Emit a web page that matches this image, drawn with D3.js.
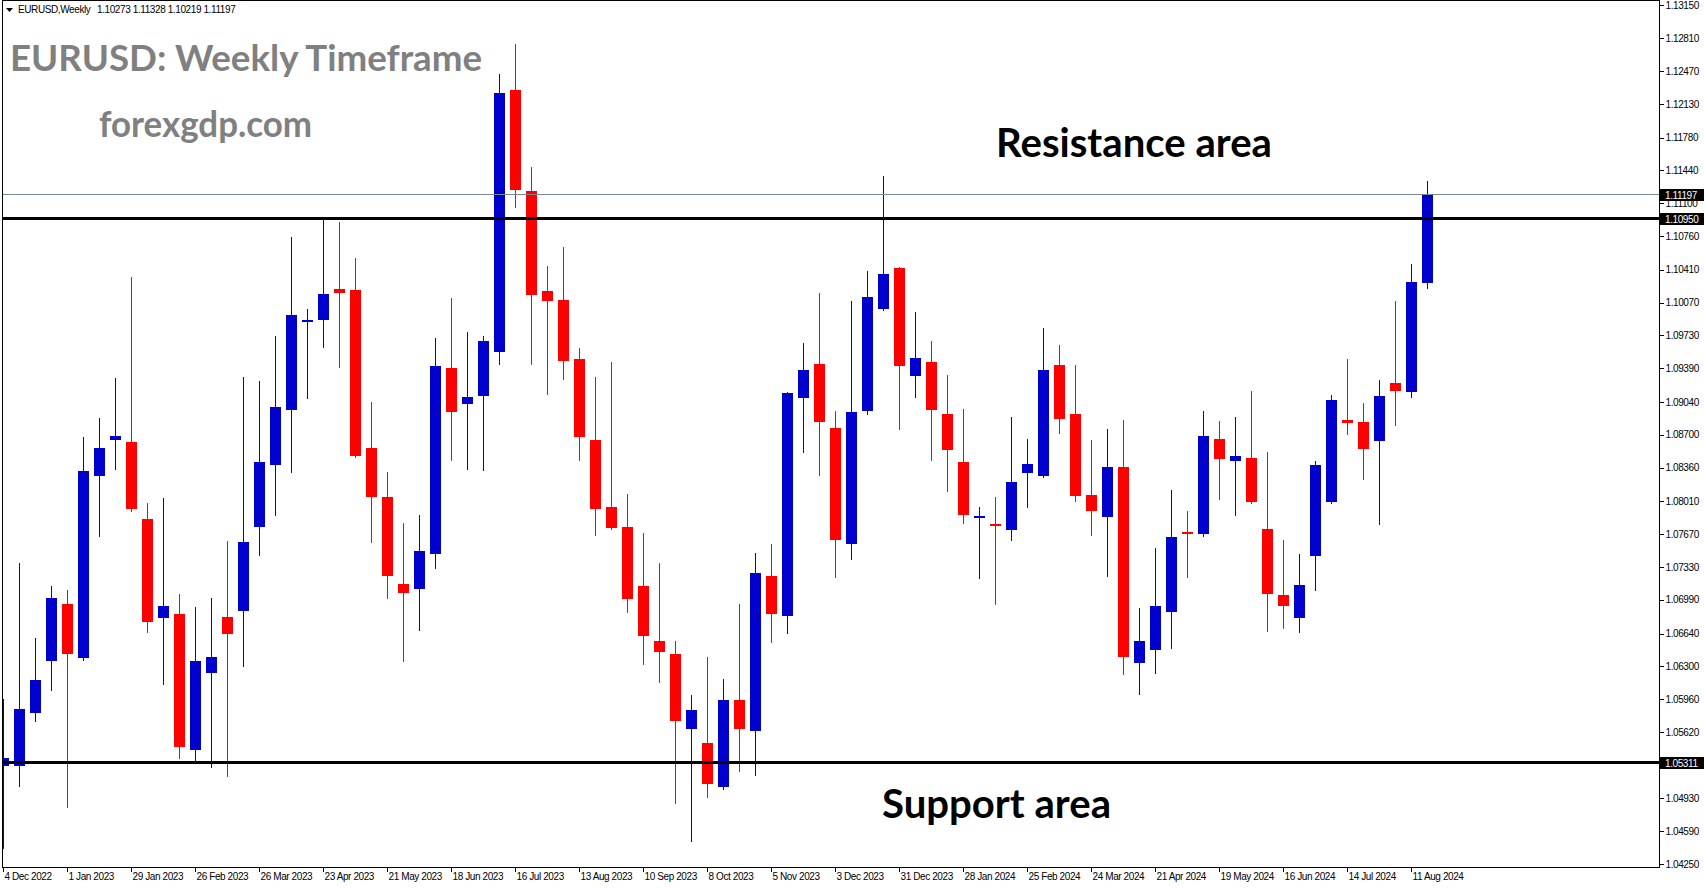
<!DOCTYPE html>
<html><head><meta charset="utf-8">
<script src="https://cdn.jsdelivr.net/npm/d3@7"></script>
<style>
html,body{margin:0;padding:0;background:#fff;overflow:hidden}
svg{display:block}
.sm{font-family:"Liberation Sans",Arial,sans-serif;font-size:10px;letter-spacing:-0.4px}
.big{font-family:Lato,"Open Sans",sans-serif;font-weight:700}
</style></head><body>
<svg id="chart" width="1705" height="888"></svg>
<script>
// ---------------- DATA ----------------
const weeks = [
"2022-12-04","2022-12-11","2022-12-18","2022-12-25",
"2023-01-01","2023-01-08","2023-01-15","2023-01-22","2023-01-29","2023-02-05","2023-02-12","2023-02-19","2023-02-26",
"2023-03-05","2023-03-12","2023-03-19","2023-03-26","2023-04-02","2023-04-09","2023-04-16","2023-04-23","2023-04-30",
"2023-05-07","2023-05-14","2023-05-21","2023-05-28","2023-06-04","2023-06-11","2023-06-18","2023-06-25","2023-07-02",
"2023-07-09","2023-07-16","2023-07-23","2023-07-30","2023-08-06","2023-08-13","2023-08-20","2023-08-27","2023-09-03",
"2023-09-10","2023-09-17","2023-09-24","2023-10-01","2023-10-08","2023-10-15","2023-10-22","2023-10-29","2023-11-05",
"2023-11-12","2023-11-19","2023-11-26","2023-12-03","2023-12-10","2023-12-17","2023-12-24","2023-12-31",
"2024-01-07","2024-01-14","2024-01-21","2024-01-28","2024-02-04","2024-02-11","2024-02-18","2024-02-25","2024-03-03",
"2024-03-10","2024-03-17","2024-03-24","2024-03-31","2024-04-07","2024-04-14","2024-04-21","2024-04-28","2024-05-05",
"2024-05-12","2024-05-19","2024-05-26","2024-06-02","2024-06-09","2024-06-16","2024-06-23","2024-06-30","2024-07-07",
"2024-07-14","2024-07-21","2024-07-28","2024-08-04","2024-08-11","2024-08-18"];

const open = [1.0527,1.0527,1.0582,1.0635,1.0695,1.0639,1.0827,1.0865,1.0862,1.0783,
1.0680,1.0684,1.0543,1.0623,1.0681,1.0687,1.0774,1.0839,1.0896,1.0987,
1.0989,1.1021,1.1020,1.0856,1.0805,1.0715,1.0710,1.0746,1.0939,1.0902,
1.0910,1.0956,1.1227,1.1123,1.1019,1.1010,1.0949,1.0865,1.0795,1.0774,
1.0713,1.0656,1.0643,1.0565,1.0551,1.0505,1.0595,1.0563,1.0724,1.0682,
1.0908,1.0943,1.0877,1.0757,1.0895,1.1000,1.1043,1.0931,1.0945,1.0891,
1.0842,1.0784,1.0778,1.0771,1.0830,1.0827,1.0942,1.0891,1.0808,1.0785,
1.0837,1.0633,1.0647,1.0686,1.0769,1.0767,1.0866,1.0843,1.0846,1.0772,
1.0704,1.0680,1.0744,1.0800,1.0885,1.0883,1.0864,1.0924,1.0914,1.10273];

const high = [1.0596,1.0737,1.0659,1.0713,1.0709,1.0868,1.0887,1.0929,1.1033,1.0799,
1.0804,1.0705,1.0691,1.0701,1.0760,1.0930,1.0926,1.0972,1.1075,1.1000,
1.1093,1.1091,1.1053,1.0904,1.0831,1.0779,1.0787,1.0970,1.1012,1.0976,
1.0972,1.1244,1.1275,1.1148,1.1045,1.1065,1.0960,1.0930,1.0945,1.0809,
1.0768,1.0737,1.0656,1.0600,1.0640,1.0617,1.0695,1.0747,1.0757,1.0914,
1.0965,1.1017,1.0895,1.1009,1.1040,1.1138,1.1044,1.0997,1.0967,1.0932,
1.0897,1.0795,1.0806,1.0888,1.0866,1.0981,1.0963,1.0942,1.0865,1.0876,
1.0885,1.0690,1.0753,1.0813,1.0791,1.0895,1.0884,1.0888,1.0915,1.0852,
1.0761,1.0746,1.0843,1.0911,1.0948,1.0903,1.0927,1.1009,1.1047,1.11328];

const low = [1.0442,1.0506,1.0573,1.0605,1.0484,1.0637,1.0765,1.0834,1.0791,1.0666,
1.0612,1.0535,1.0533,1.0526,1.0516,1.0630,1.0745,1.0787,1.0831,1.0908,
1.0961,1.0940,1.0847,1.0759,1.0701,1.0635,1.0668,1.0732,1.0844,1.0835,
1.0833,1.0943,1.1106,1.0943,1.0912,1.0928,1.0844,1.0766,1.0772,1.0686,
1.0632,1.0614,1.0488,1.0449,1.0495,1.0503,1.0522,1.0517,1.0655,1.0665,
1.0852,1.0828,1.0723,1.0741,1.0891,1.0999,1.0876,1.0909,1.0844,1.0812,
1.0779,1.0722,1.0695,1.0761,1.0795,1.0826,1.0872,1.0801,1.0766,1.0724,
1.0622,1.0601,1.0623,1.0649,1.0723,1.0765,1.0803,1.0787,1.0799,1.0667,
1.0670,1.0666,1.0709,1.0799,1.0871,1.0824,1.0777,1.0880,1.0909,1.10219];

const close = [1.0535,1.0586,1.0616,1.0701,1.0643,1.0832,1.0856,1.0869,1.0793,1.0676,
1.0693,1.0546,1.0635,1.0640,1.0664,1.0759,1.0842,1.0899,1.0994,1.0989,
1.1016,1.1017,1.0848,1.0805,1.0724,1.0706,1.0749,1.0941,1.0894,1.0909,
1.0967,1.1224,1.1124,1.1015,1.1009,1.0946,1.0868,1.0793,1.0773,1.0700,
1.0661,1.0645,1.0573,1.0585,1.0508,1.0595,1.0565,1.0727,1.0684,1.0913,
1.0937,1.0883,1.0761,1.0894,1.1013,1.1037,1.0941,1.0950,1.0896,1.0854,
1.0787,1.0786,1.0776,1.0821,1.0840,1.0937,1.0886,1.0807,1.0791,1.0837,
1.0640,1.0656,1.0693,1.0764,1.0768,1.0869,1.0845,1.0848,1.0800,1.0705,
1.0692,1.0714,1.0839,1.0906,1.0882,1.0855,1.0910,1.0915,1.1028,1.11197];

const priceTicks = [1.13150,1.12810,1.12470,1.12130,1.11780,1.11440,1.11100,1.10760,1.10410,
1.10070,1.09730,1.09390,1.09040,1.08700,1.08360,1.08010,1.07670,1.07330,1.06990,1.06640,
1.06300,1.05960,1.05620,1.05270,1.04930,1.04590,1.04250];

const timeTickLabels = ["4 Dec 2022","1 Jan 2023","29 Jan 2023","26 Feb 2023","26 Mar 2023","23 Apr 2023",
"21 May 2023","18 Jun 2023","16 Jul 2023","13 Aug 2023","10 Sep 2023","8 Oct 2023","5 Nov 2023",
"3 Dec 2023","31 Dec 2023","28 Jan 2024","25 Feb 2024","24 Mar 2024","21 Apr 2024","19 May 2024",
"16 Jun 2024","14 Jul 2024","11 Aug 2024"];

const resistanceLevel = 1.10950;
const supportLevel = 1.05311;
const lastPrice = 1.11197;
const symbolText = "EURUSD,Weekly";
const ohlcText = "1.10273 1.11328 1.10219 1.11197";
const titleText = "EURUSD: Weekly Timeframe";
const siteText = "forexgdp.com";
const resistanceText = "Resistance area";
const supportText = "Support area";

// ---------------- CHART ----------------
const svg = d3.select("#chart");
const plotL = 2, plotR = 1659, plotT = 0, plotB = 867;
const parse = d3.utcParse("%Y-%m-%d");
const parseLbl = d3.utcParse("%e %b %Y");
const dates = weeks.map(parse);
const candles = dates.map((d,i)=>({d, o:open[i], h:high[i], l:low[i], c:close[i]}));

const x = d3.scaleUtc().domain([dates[0], dates[dates.length-1]]).range([3.3, 3.3 + 16*(dates.length-1)]);
const y = d3.scaleLinear().domain([1.04220, 1.13206]).range([plotB, plotT]);

const BULL = "#0000cd", BEAR = "#ff0000";

svg.append("defs").append("clipPath").attr("id","plotclip")
  .append("rect").attr("x",plotL+1).attr("y",plotT+1).attr("width",plotR-plotL-1).attr("height",plotB-plotT-1);

const plot = svg.append("g").attr("clip-path","url(#plotclip)");

const cg = plot.append("g");
const xc = d => Math.floor(x(d.d)) + 0.5;
cg.selectAll("line.wick").data(candles).join("line").attr("class","wick")
  .attr("x1",xc).attr("x2",xc)
  .attr("y1",d=>Math.round(y(d.h))).attr("y2",d=>Math.round(y(d.l))+1)
  .attr("stroke",d=>d.c>=d.o?BULL:BEAR).attr("stroke-width",1).attr("shape-rendering","crispEdges");
cg.selectAll("rect.body").data(candles).join("rect").attr("class","body")
  .attr("x",d=>Math.floor(x(d.d))-5).attr("width",11)
  .attr("y",d=>Math.round(y(Math.max(d.o,d.c))))
  .attr("height",d=>Math.max(2, Math.round(y(Math.min(d.o,d.c))) - Math.round(y(Math.max(d.o,d.c)))))
  .attr("fill",d=>d.c>=d.o?BULL:BEAR).attr("shape-rendering","crispEdges");

// horizontal lines
plot.append("line").attr("x1",plotL).attr("x2",plotR)
  .attr("y1",Math.round(y(lastPrice))+0.5).attr("y2",Math.round(y(lastPrice))+0.5)
  .attr("stroke","#778899").attr("stroke-width",1).attr("shape-rendering","crispEdges");
[resistanceLevel, supportLevel].forEach(v=>{
  plot.append("line").attr("x1",plotL).attr("x2",plotR)
    .attr("y1",Math.round(y(v))+0.5).attr("y2",Math.round(y(v))+0.5)
    .attr("stroke","#000").attr("stroke-width",3).attr("shape-rendering","crispEdges");
});

// frame
svg.append("rect").attr("x",plotL+0.5).attr("y",plotT+0.5).attr("width",plotR-plotL).attr("height",plotB-plotT)
  .attr("fill","none").attr("stroke","#000").attr("stroke-width",1).attr("shape-rendering","crispEdges");

// price axis
const ya = d3.axisRight(y).tickValues(priceTicks).tickFormat(d3.format(".5f")).tickSize(4).tickSizeOuter(0).tickPadding(2);
const yag = svg.append("g").attr("transform",`translate(${plotR+0.5},0)`).call(ya);
yag.select(".domain").remove();
yag.selectAll("line").attr("shape-rendering","crispEdges");
yag.selectAll("text").attr("class","sm").attr("fill","#000").attr("font-size",null).attr("font-family",null);
yag.attr("font-size",null).attr("font-family",null);

// price labels boxes
[resistanceLevel, lastPrice, supportLevel].forEach(v=>{
  const yy = Math.round(y(v));
  const g = svg.append("g");
  g.append("rect").attr("x",plotR+1).attr("y",yy-5).attr("width",44).attr("height",12).attr("fill","#000");
  g.append("text").attr("class","sm").attr("x",plotR+6).attr("y",yy+5).attr("fill","#fff").text(d3.format(".5f")(v));
});

// time axis
const tickDates = timeTickLabels.map(parseLbl);
const xa = d3.axisBottom(x).tickValues(tickDates).tickFormat((d,i)=>timeTickLabels[i]).tickSize(4).tickSizeOuter(0).tickPadding(2);
const xag = svg.append("g").attr("transform",`translate(0,${plotB+0.5})`).call(xa);
xag.select(".domain").remove();
xag.selectAll(".tick").attr("transform",d=>`translate(${Math.floor(x(d))+0.5},0)`);
xag.selectAll("line").attr("shape-rendering","crispEdges");
xag.selectAll("text").attr("class","sm").attr("text-anchor","start").attr("dx",1).attr("dy","0.62em").attr("fill","#000");
xag.attr("font-size",null).attr("font-family",null);

// header
svg.append("path").attr("d","M6,8 L13,8 L9.5,12 Z").attr("fill","#000");
svg.append("text").attr("class","sm").attr("x",18).attr("y",13).attr("fill","#000").text(symbolText);
svg.append("text").attr("class","sm").attr("x",97).attr("y",13).attr("fill","#000").text(ohlcText);

// titles
svg.append("text").attr("class","big").attr("x",10).attr("y",71).attr("font-size",37)
  .attr("fill","#808080").attr("textLength",472).attr("lengthAdjust","spacingAndGlyphs").text(titleText);
svg.append("text").attr("class","big").attr("x",99).attr("y",137).attr("font-size",37)
  .attr("fill","#808080").attr("textLength",213).attr("lengthAdjust","spacingAndGlyphs").text(siteText);
svg.append("text").attr("class","big").attr("x",996).attr("y",157).attr("font-size",40)
  .attr("fill","#000").attr("textLength",276).attr("lengthAdjust","spacingAndGlyphs").text(resistanceText);
svg.append("text").attr("class","big").attr("x",882).attr("y",818).attr("font-size",40)
  .attr("fill","#000").attr("textLength",229).attr("lengthAdjust","spacingAndGlyphs").text(supportText);
</script>
</body></html>
